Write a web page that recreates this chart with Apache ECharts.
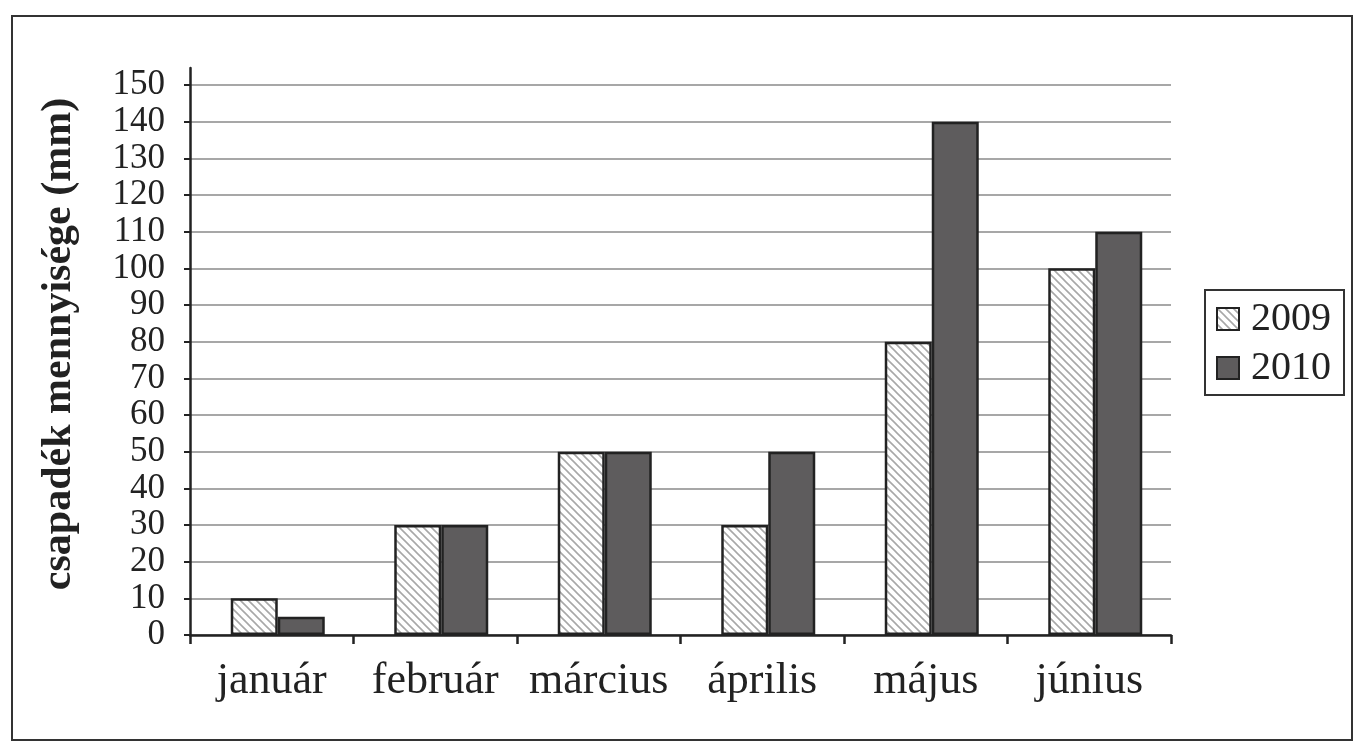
<!DOCTYPE html>
<html>
<head>
<meta charset="utf-8">
<script src="https://cdn.jsdelivr.net/npm/echarts@6/dist/echarts.min.js"></script>
<style>
  html, body { margin: 0; padding: 0; background: #fff; }
  #chart { width: 1364px; height: 754px; }
</style>
</head>
<body>
<div id="chart"></div>
<script>
var months = ["január", "február", "március", "április", "május", "június"];
var rain2009 = [10, 30, 50, 30, 80, 100];
var rain2010 = [5, 30, 50, 50, 140, 110];
var seriesNames = ["2009", "2010"];

// diagonal hatch for 2009
function hatch() {
  var c = document.createElement("canvas");
  c.width = 8;
  c.height = 8;
  var ctx = c.getContext("2d");
  ctx.fillStyle = "#fff";
  ctx.fillRect(0, 0, 8, 8);
  ctx.strokeStyle = "#a8a8a8";
  ctx.lineWidth = 1.6;
  ctx.beginPath();
  ctx.moveTo(-2, -2); ctx.lineTo(10, 10);
  ctx.moveTo(-2, 6); ctx.lineTo(2, 10);
  ctx.moveTo(6, -2); ctx.lineTo(10, 2);
  ctx.stroke();
  return c;
}

var font = "Liberation Serif";
var myChart = echarts.init(document.getElementById("chart"));

var option = {
  animation: false,
  textStyle: { fontFamily: font, color: "#222" },
  graphic: [
    {
      type: "rect",
      shape: { x: 12, y: 16, width: 1340, height: 724 },
      style: { fill: null, stroke: "#333", lineWidth: 2 },
      silent: true
    }
  ],
  legend: {
    orient: "vertical",
    left: 1205,
    top: 290,
    padding: [9, 13, 7, 11],
    itemGap: 9,
    itemWidth: 22,
    itemHeight: 22,
    borderColor: "#333",
    borderWidth: 2,
    icon: "rect",
    textStyle: { fontFamily: font, fontSize: 40, color: "#222", padding: [0, 0, 0, 7] },
    data: seriesNames
  },
  grid: [
    { left: 190, right: 193, top: 85, bottom: 119 },
    { left: 190, right: 193, top: 68, bottom: 119 }
  ],
  xAxis: [
    {
      type: "category",
      gridIndex: 0,
      data: months,
      axisLine: { lineStyle: { color: "#222", width: 2.5 } },
      axisTick: { show: true, length: 9, lineStyle: { color: "#222", width: 2.5 } },
      axisLabel: { interval: 0, hideOverlap: false, fontFamily: font, fontSize: 44, color: "#222", margin: 24 }
    },
    {
      type: "category",
      gridIndex: 1,
      data: months,
      show: false
    }
  ],
  yAxis: [
    {
      type: "value",
      gridIndex: 0,
      min: 0,
      max: 150,
      interval: 10,
      name: "csapadék mennyisége (mm)",
      nameLocation: "middle",
      nameGap: 110,
      nameTextStyle: { fontFamily: font, fontSize: 42, fontWeight: "bold", color: "#222", padding: [0, 0, 0, 32] },
      axisLine: { show: false },
      axisTick: { show: true, inside: false, length: 6, lineStyle: { color: "#222", width: 2 } },
      axisLabel: {
        fontFamily: font, fontSize: 35, color: "#222", margin: 25,
        hideOverlap: false
      },
      splitLine: { lineStyle: { color: "#8a8a8a", width: 1.6 } }
    },
    {
      type: "value",
      gridIndex: 1,
      min: 0,
      max: 150,
      axisLine: { show: true, lineStyle: { color: "#222", width: 2.5 } },
      axisTick: { show: false },
      axisLabel: { show: false },
      splitLine: { show: false }
    }
  ],
  series: [
    {
      // empty spacer so the bar pair sits a little right of the category centre
      name: "spacer",
      type: "bar",
      xAxisIndex: 0,
      yAxisIndex: 0,
      data: [],
      barWidth: 12,
      barGap: "0%",
      silent: true
    },
    {
      name: seriesNames[0],
      type: "bar",
      xAxisIndex: 0,
      yAxisIndex: 0,
      data: rain2009,
      barWidth: 47,
      barGap: "0%",
      itemStyle: {
        color: { image: hatch(), repeat: "repeat" },
        borderColor: "#222",
        borderWidth: 2.5
      }
    },
    {
      name: seriesNames[1],
      type: "bar",
      xAxisIndex: 0,
      yAxisIndex: 0,
      data: rain2010,
      barWidth: 47,
      barGap: "0%",
      itemStyle: {
        color: "#5e5c5d",
        borderColor: "#222",
        borderWidth: 2.5
      }
    }
  ]
};

myChart.setOption(option);
</script>
</body>
</html>
